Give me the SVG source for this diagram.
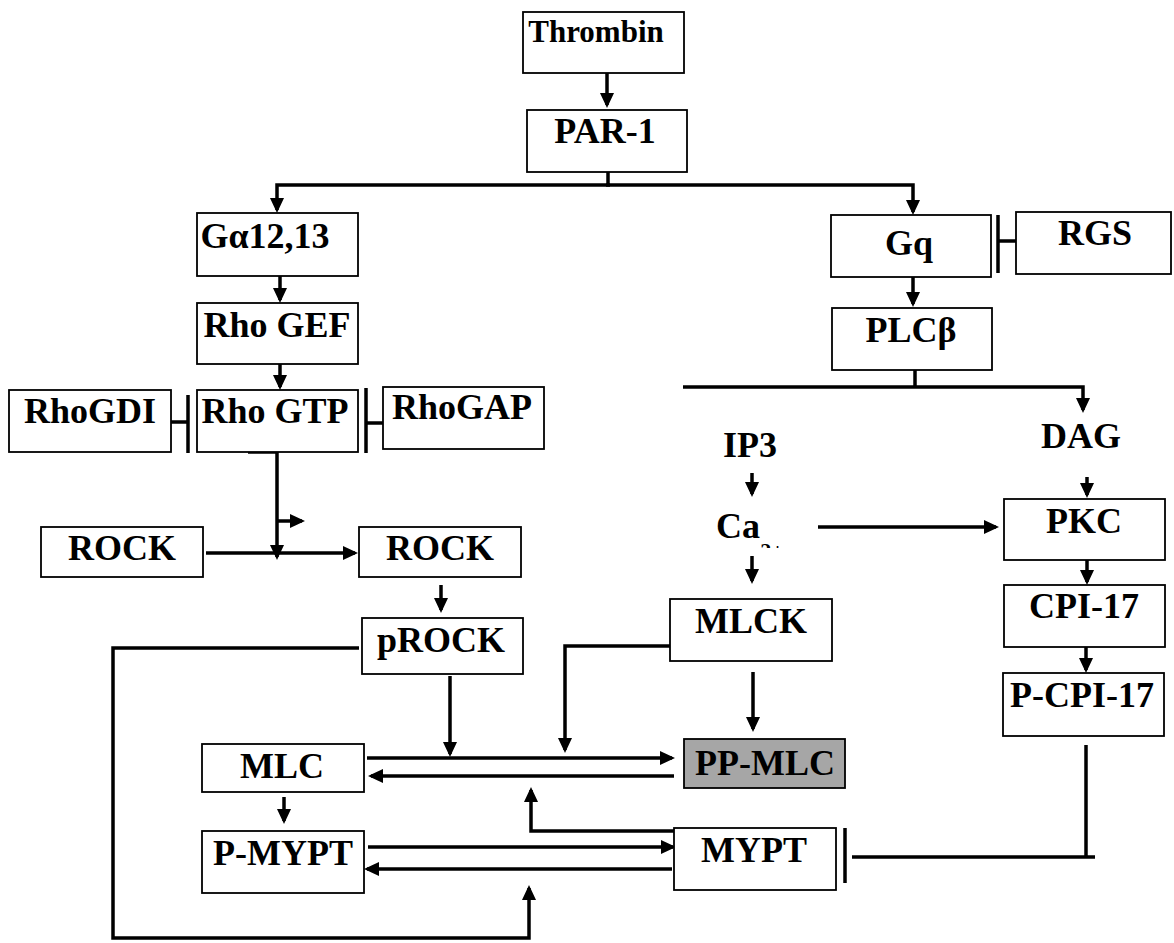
<svg xmlns="http://www.w3.org/2000/svg" width="1174" height="943" viewBox="0 0 1174 943">
  <style>
    .box { fill: #ffffff; stroke: #000000; stroke-width: 1.8; }
    .box.shaded { fill: #a6a6a6; }
    .lbl { font-weight: bold; font-size: 36px; fill: #000000; text-anchor: middle; }
    .wire { fill: none; stroke: #000000; stroke-width: 3.5; stroke-linejoin: miter; stroke-linecap: butt; }
    .arr { marker-end: url(#head); }
  </style>
  <defs>
    <marker id="head" viewBox="0 0 15 14" markerWidth="15" markerHeight="14" markerUnits="userSpaceOnUse" refX="12" refY="7" orient="auto">
      <path d="M0,0 L15,7 L0,14 Z" fill="#000000"/>
    </marker>
    <clipPath id="ionClip">
      <rect x="755" y="538" width="40" height="10"/>
    </clipPath>
  </defs>

  <!-- connectors -->
  <g id="connectors">
    <path class="wire arr" d="M607,73 V105"/>
    <path class="wire" d="M608,172 V185"/>
    <path class="wire arr" d="M610,185 H277 V210"/>
    <path class="wire arr" d="M606,185 H913 V212"/>
    <path class="wire arr" d="M280,276 V300"/>
    <path class="wire arr" d="M280,364 V387"/>
    <!-- RhoGDI and RhoGAP inhibition -->
    <path class="wire" d="M171,422 H188 M188,395 V453"/>
    <path class="wire" d="M383,423 H366 M366,388 V453"/>
    <!-- Rho GTP to ROCK activation -->
    <path class="wire arr" d="M248,452 H277 V557"/>
    <path class="wire arr" d="M277,521 H302"/>
    <path class="wire arr" d="M206,553 H355"/>
    <path class="wire arr" d="M441,585 V610"/>
    <!-- pROCK loop to MYPT exchange -->
    <path class="wire arr" d="M359,648 H113 V938 H529 V888"/>
    <path class="wire arr" d="M450,676 V754"/>
    <path class="wire arr" d="M672,646 H565 V750"/>
    <path class="wire arr" d="M753,672 V729"/>
    <!-- MLC / PP-MLC exchange -->
    <path class="wire arr" d="M367,758 H672"/>
    <path class="wire arr" d="M674,776 H371"/>
    <path class="wire arr" d="M674,831 H531 V790"/>
    <path class="wire arr" d="M284,797 V821"/>
    <!-- P-MYPT / MYPT exchange -->
    <path class="wire arr" d="M368,847 H673"/>
    <path class="wire arr" d="M672,869 H367"/>
    <!-- P-CPI-17 inhibits MYPT -->
    <path class="wire" d="M1086,745 V857 M1095,857 H852 M845,828 V883"/>
    <!-- Gq branch -->
    <path class="wire arr" d="M913,277 V304"/>
    <path class="wire" d="M1016,241 H998 M998,215 V273"/>
    <path class="wire" d="M915,370 V387"/>
    <path class="wire arr" d="M683,387 H1083 V410"/>
    <path class="wire arr" d="M752,473 V494"/>
    <path class="wire arr" d="M752,556 V581"/>
    <path class="wire arr" d="M818,527 H996"/>
    <path class="wire arr" d="M1087,477 V495"/>
    <path class="wire arr" d="M1087,560 V582"/>
    <path class="wire arr" d="M1086,647 V670"/>
  </g>

  <!-- nodes -->
  <g font-family="'Liberation Serif', 'Times New Roman', Tinos, 'DejaVu Serif', serif">
  <g id="thrombin"><rect class="box" x="523" y="12" width="161" height="61"/><text class="lbl" x="596" y="42" style="font-size:31px">Thrombin</text></g>
  <g id="par1"><rect class="box" x="527" y="110" width="160" height="62"/><text class="lbl" x="605" y="143">PAR-1</text></g>
  <g id="ga1213"><rect class="box" x="197" y="213" width="161" height="63"/><text class="lbl" x="265" y="248">Gα12,13</text></g>
  <g id="rhogef"><rect class="box" x="197" y="303" width="161" height="61"/><text class="lbl" x="277" y="337">Rho GEF</text></g>
  <g id="rhogtp"><rect class="box" x="197" y="390" width="161" height="62"/><text class="lbl" x="275" y="423">Rho GTP</text></g>
  <g id="rhogdi"><rect class="box" x="9" y="390" width="162" height="62"/><text class="lbl" x="90" y="423">RhoGDI</text></g>
  <g id="rhogap"><rect class="box" x="383" y="387" width="161" height="62"/><text class="lbl" x="462" y="419">RhoGAP</text></g>
  <g id="gq"><rect class="box" x="831" y="215" width="160" height="62"/><text class="lbl" x="909" y="255">Gq</text></g>
  <g id="rgs"><rect class="box" x="1016" y="212" width="155" height="62"/><text class="lbl" x="1095" y="245">RGS</text></g>
  <g id="plcb"><rect class="box" x="832" y="308" width="160" height="62"/><text class="lbl" x="911" y="342">PLCβ</text></g>
  <g id="ip3"><text class="lbl" x="750" y="457">IP3</text></g>
  <g id="dag"><text class="lbl" x="1081" y="448">DAG</text></g>
  <g id="ca">
    <text class="lbl" x="738" y="538">Ca</text>
    <text class="lbl" x="772" y="558" style="font-size:22px" clip-path="url(#ionClip)">2+</text>
  </g>
  <g id="rock-inactive"><rect class="box" x="41" y="527" width="162" height="50"/><text class="lbl" x="122" y="560">ROCK</text></g>
  <g id="rock-active"><rect class="box" x="359" y="527" width="162" height="50"/><text class="lbl" x="440" y="560">ROCK</text></g>
  <g id="prock"><rect class="box" x="362" y="618" width="161" height="56"/><text class="lbl" x="441" y="652">pROCK</text></g>
  <g id="mlck"><rect class="box" x="670" y="599" width="162" height="62"/><text class="lbl" x="751" y="633">MLCK</text></g>
  <g id="pkc"><rect class="box" x="1004" y="499" width="161" height="61"/><text class="lbl" x="1084" y="533">PKC</text></g>
  <g id="cpi17"><rect class="box" x="1004" y="585" width="161" height="62"/><text class="lbl" x="1084" y="618">CPI-17</text></g>
  <g id="pcpi17"><rect class="box" x="1003" y="673" width="161" height="63"/><text class="lbl" x="1082" y="707">P-CPI-17</text></g>
  <g id="mlc"><rect class="box" x="202" y="744" width="162" height="48"/><text class="lbl" x="282" y="778">MLC</text></g>
  <g id="ppmlc"><rect class="box shaded" x="684" y="739" width="161" height="49"/><text class="lbl" x="765" y="775">PP-MLC</text></g>
  <g id="pmypt"><rect class="box" x="202" y="831" width="162" height="62"/><text class="lbl" x="283" y="865">P-MYPT</text></g>
  <g id="mypt"><rect class="box" x="674" y="828" width="162" height="62"/><text class="lbl" x="754" y="862">MYPT</text></g>
  </g>
</svg>
